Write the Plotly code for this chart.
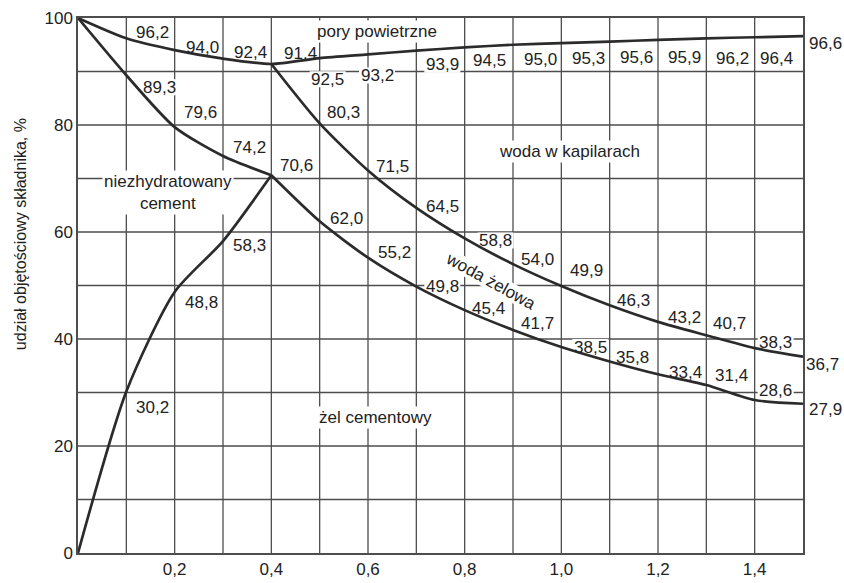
import plotly.graph_objects as go

# ---- data ----
x_full = [0.0, 0.1, 0.2, 0.3, 0.4, 0.5, 0.6, 0.7, 0.8, 0.9, 1.0, 1.1, 1.2, 1.3, 1.4, 1.5]
air_pores_top = [100.0, 96.2, 94.0, 92.4, 91.4, 92.5, 93.2, 93.9, 94.5, 95.0, 95.3, 95.6, 95.9, 96.2, 96.4, 96.6]

x_low = [0.0, 0.1, 0.2, 0.3, 0.4]
unhydrated_top = [100.0, 89.3, 79.6, 74.2, 70.6]
unhydrated_bottom = [0.0, 30.2, 48.8, 58.3, 70.6]

x_high = [0.4, 0.5, 0.6, 0.7, 0.8, 0.9, 1.0, 1.1, 1.2, 1.3, 1.4, 1.5]
capillary_bottom = [91.4, 80.3, 71.5, 64.5, 58.8, 54.0, 49.9, 46.3, 43.2, 40.7, 38.3, 36.7]
gel_water_bottom = [70.6, 62.0, 55.2, 49.8, 45.4, 41.7, 38.5, 35.8, 33.4, 31.4, 28.6, 27.9]

x_tick_values = [0.2, 0.4, 0.6, 0.8, 1.0, 1.2, 1.4]
x_tick_labels = ["0,2", "0,4", "0,6", "0,8", "1,0", "1,2", "1,4"]
y_tick_values = [0, 20, 40, 60, 80, 100]
y_tick_labels = ["0", "20", "40", "60", "80", "100"]

region_labels = ["pory powietrzne", "woda w kapilarach", "niezhydratowany<br>cement",
                 "woda żelowa", "żel cementowy"]
y_title = "udział objętościowy składnika, %"

# ---- label placement: pixel shifts (right, up) from each point ----
top_shifts = [None, (26, 6), (28, 3), (27, 6), (29, 11), (8, -21), (9, -21), (26, -14), (25, -13),
              (27, -15), (27, -15), (27, -16), (26, -18), (26, -20), (22, -21), (22, -7)]
ut_shifts = [None, (33, -12), (26, 15), (26, 9), (25, 10)]
ub_shifts = [None, (26, -16), (27, -11), (26, -4), None]
cap_shifts = [None, (24, 11), (24, 4), (26, 1), (31, -2), (24, 5), (25, 16), (24, 5), (26, 4),
              (23, 12), (21, 6), (19, -8)]
gel_shifts = [None, (27, 3), (26, 5), (26, 0), (24, 2), (24, 6), (29, 0), (23, 4), (27, 2),
              (25, 10), (21, 9), (22, -6)]
region_pos = [(0.619, 97.4, 0), (1.016, 75.0, 0), (0.186, 67.4, 0), (0.855, 50.8, 29), (0.616, 25.4, 0)]

FONT = "Liberation Sans, Arial, sans-serif"
LINE_COLOR = "#2b2b2b"
GRID_COLOR = "#4d4d4d"
TEXT_COLOR = "#222"


def fmt(v):
    return f"{v:.1f}".replace(".", ",")


fig = go.Figure()
series = [
    (x_full, air_pores_top),
    (x_low, unhydrated_top),
    (x_low, unhydrated_bottom),
    (x_high, capillary_bottom),
    (x_high, gel_water_bottom),
]
for xs, ys in series:
    fig.add_trace(go.Scatter(x=xs, y=ys, mode="lines", cliponaxis=False,
                             line=dict(color=LINE_COLOR, width=2.7, shape="spline", smoothing=0.7),
                             showlegend=False, hoverinfo="skip"))

grid_x = [round(i * 0.1, 1) for i in range(0, 16)]
grid_y = list(range(0, 101, 10))

shapes = []
for gx in grid_x[1:-1]:
    shapes.append(dict(type="line", xref="x", yref="paper", x0=gx, x1=gx, y0=0, y1=1,
                       line=dict(color=GRID_COLOR, width=1.3), layer="below"))
for gy in grid_y[1:-1]:
    shapes.append(dict(type="line", xref="paper", yref="y", x0=0, x1=1, y0=gy, y1=gy,
                       line=dict(color=GRID_COLOR, width=1.3), layer="below"))

annotations = []


def add_value_labels(xs, ys, shifts):
    for xv, yv, sh in zip(xs, ys, shifts):
        if sh is None:
            continue
        dx, dy = sh
        annotations.append(dict(x=xv, y=yv, xshift=dx, yshift=dy, text=fmt(yv), showarrow=False,
                                xref="x", yref="y",
                                font=dict(family=FONT, size=17, color=TEXT_COLOR)))
        # white patch behind the number that interrupts the grid (kept below the curves)
        shapes.append(dict(type="rect", xref="x", yref="y", xsizemode="pixel", ysizemode="pixel",
                           xanchor=xv, yanchor=yv, x0=dx - 18, x1=dx + 18, y0=dy - 8, y1=dy + 8,
                           fillcolor="white", line=dict(width=0), layer="below"))


add_value_labels(x_full, air_pores_top, top_shifts)
add_value_labels(x_low, unhydrated_top, ut_shifts)
add_value_labels(x_low, unhydrated_bottom, ub_shifts)
add_value_labels(x_high, capillary_bottom, cap_shifts)
add_value_labels(x_high, gel_water_bottom, gel_shifts)

for text, (xv, yv, ang) in zip(region_labels, region_pos):
    annotations.append(dict(x=xv, y=yv, text=text, showarrow=False, xref="x", yref="y",
                            textangle=ang, font=dict(family=FONT, size=17, color=TEXT_COLOR),
                            bgcolor="white" if ang == 0 else "rgba(0,0,0,0)", borderpad=1))
    if ang != 0:
        # rotated white patch behind the slanted label
        shapes.append(dict(type="path", xref="x", yref="y", xsizemode="pixel", ysizemode="pixel",
                           xanchor=xv, yanchor=yv,
                           path="M 48.1,-16.3 L 39.3,-32.1 L -48.1,16.3 L -39.3,32.1 Z",
                           fillcolor="white", line=dict(width=0), layer="below"))

annotations.append(dict(x=-0.0800, y=0.596, xref="paper", yref="paper", text=y_title,
                        showarrow=False, textangle=-90, xanchor="center", yanchor="middle",
                        font=dict(family=FONT, size=16, color=TEXT_COLOR)))

fig.update_layout(
    width=844, height=583,
    margin=dict(l=78, r=41, t=18, b=30, autoexpand=False),
    paper_bgcolor="white", plot_bgcolor="white",
    annotations=annotations,
    shapes=shapes,
    font=dict(family=FONT, size=17, color=TEXT_COLOR),
    xaxis=dict(range=[0, 1.5], tickmode="array", tickvals=x_tick_values, ticktext=x_tick_labels,
               showgrid=False, zeroline=False, showline=True, mirror=True,
               linecolor=GRID_COLOR, linewidth=1.5, ticks="", tickfont=dict(size=17)),
    yaxis=dict(range=[0, 100], tickmode="array", tickvals=y_tick_values, ticktext=y_tick_labels,
               showgrid=False, zeroline=False, showline=True, mirror=True,
               linecolor=GRID_COLOR, linewidth=1.5, ticks="", tickfont=dict(size=17)),
)

# remove the page's default body margin so the 844x583 figure fills the window exactly
fig.write_html("out.html", config={"displayModeBar": False},
               post_script="document.body.style.margin='0';document.body.style.overflow='hidden';")
